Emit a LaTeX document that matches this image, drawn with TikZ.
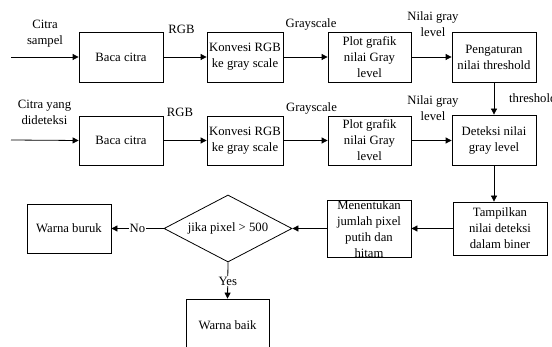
\documentclass[tikz,border=0pt]{standalone}
\usepackage{fontspec}
\setmainfont{Liberation Serif}
\usetikzlibrary{arrows.meta,shapes.geometric}
\begin{document}
\begin{tikzpicture}[x=1pt,y=-1pt,
  every node/.style={font=\fontsize{12.7}{16}\selectfont, inner sep=1pt},
  box/.style={draw, line width=0.8pt, align=center, minimum width=84pt, minimum height=50pt},
  lbl/.style={align=center},
  arr/.style={line width=0.8pt, -{Triangle[length=6pt,width=6pt]}},
  ln/.style={line width=0.8pt}]
\useasboundingbox (0,0) rectangle (552,347);
% top row
\node[box] (baca1) at (121,57) {Baca citra};
\node[box, minimum width=76pt] (konv1) at (245,57) {Konvesi RGB\\ke gray scale};
\node[box, minimum width=83pt] (plot1) at (369.5,57) {Plot grafik\\nilai Gray\\level};
\node[box] (peng) at (494,57) {Pengaturan\\nilai threshold};
% second row
\node[box, minimum height=49pt] (baca2) at (121,140.5) {Baca citra};
\node[box, minimum width=76pt, minimum height=49pt] (konv2) at (245,140.5) {Konvesi RGB\\ke gray scale};
\node[box, minimum width=83pt, minimum height=49pt] (plot2) at (369.5,140.5) {Plot grafik\\nilai Gray\\level};
\node[box] (det) at (494,140) {Deteksi nilai\\gray level};
% bottom
\node[box, minimum width=94pt, minimum height=53pt] (tamp) at (500,228.5) {Tampilkan\\nilai deteksi\\dalam biner};
\node[box, minimum height=57pt] (ment) at (369,228.5) {};
\node[lbl] (menttext) at (369,229) {Menentukan\\jumlah pixel\\putih dan\\hitam};
\node[draw, line width=0.8pt, shape=diamond, minimum width=128pt, minimum height=67pt, aspect=1.91, inner sep=0pt] (dia) at (228,228.5) {jika pixel > 500};
\node[box, minimum height=49pt] (buruk) at (69,228.5) {Warna buruk};
\node[box, minimum width=83pt, minimum height=52pt] (baik) at (227.5,325) {Warna baik};
% free ends
\coordinate (in1) at (11,57);
\coordinate (in2) at (11,140);
% labels
\node[lbl] (lcs) at (45,34) {Citra\\sampel};
\node[lbl] (lcy) at (44.5,112) {Citra yang\\dideteksi};
\node (lrgb1) at (181.5,29) {RGB};
\node (lrgb2) at (180,112) {RGB};
\node (lgs1) at (311,24) {Grayscale};
\node (lgs2) at (311.5,108) {Grayscale};
\node[lbl] (lng1) at (433,24) {Nilai gray\\level};
\node[lbl] (lng2) at (433,108) {Nilai gray\\level};
\node[anchor=west] (lth) at (508,98) {threshold};
% connectors
\draw[arr] (in1) -- (baca1.west);
\draw[arr] (baca1) -- (konv1);
\draw[arr] (konv1) -- (plot1);
\draw[arr] (plot1) -- (peng);
\draw[arr] (in2) -- (baca2.west);
\draw[arr] (baca2) -- (konv2);
\draw[arr] (konv2) -- (plot2);
\draw[arr] (plot2.east) -- (det.west |- plot2.east);
\draw[arr] (peng) -- (det);
\draw[arr] (det.south) -- (det.south |- tamp.north);
\draw[arr] (tamp.west) -- (ment.east);
\draw[arr] (ment.west) -- (dia.east);
\draw[arr] (dia.west) -- node[fill=white, inner sep=0.5pt] (lno) {No} (buruk.east);
\draw[arr] (dia.south) -- node[fill=white, inner sep=1pt, pos=0.52] (lyes) {Yes} (baik.north);
\end{tikzpicture}
\end{document}
